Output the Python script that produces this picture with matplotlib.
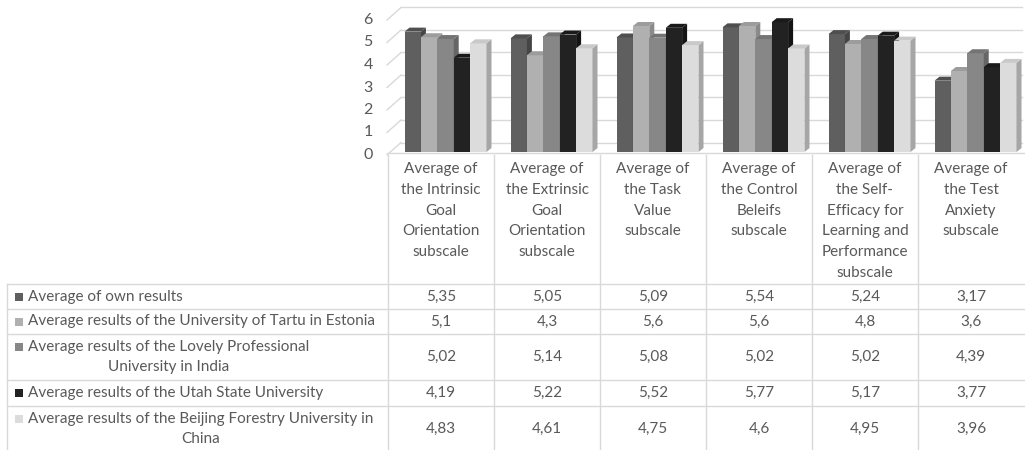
import matplotlib
matplotlib.use("Agg")
import matplotlib.pyplot as plt
from matplotlib.patches import Polygon, Rectangle

plt.rcParams['font.family'] = ['Lato', 'DejaVu Sans']

# Subscale categories (header of the data table)
categories = [
    "Average of\nthe Intrinsic\nGoal\nOrientation\nsubscale",
    "Average of\nthe Extrinsic\nGoal\nOrientation\nsubscale",
    "Average of\nthe Task\nValue\nsubscale",
    "Average of\nthe Control\nBeleifs\nsubscale",
    "Average of\nthe Self-\nEfficacy for\nLearning and\nPerformance\nsubscale",
    "Average of\nthe Test\nAnxiety\nsubscale",
]

series_names = [
    "Average of own results",
    "Average results of the University of Tartu in Estonia",
    "Average results of the Lovely Professional\nUniversity in India",
    "Average results of the Utah State University",
    "Average results of the Beijing Forestry University in\nChina",
]

own_results = [5.35, 5.05, 5.09, 5.54, 5.24, 3.17]
tartu = [5.1, 4.3, 5.6, 5.6, 4.8, 3.6]
lovely = [5.02, 5.14, 5.08, 5.02, 5.02, 4.39]
utah = [4.19, 5.22, 5.52, 5.77, 5.17, 3.77]
beijing = [4.83, 4.61, 4.75, 4.6, 4.95, 3.96]

series_values = [own_results, tartu, lovely, utah, beijing]

y_ticks = [0, 1, 2, 3, 4, 5, 6]

# front / top / side shades for the 3D columns
front_colors = ["#5f5f5f", "#b0b0b0", "#878787", "#222222", "#dcdcdc"]
top_colors = ["#4f4f4f", "#9c9c9c", "#747474", "#1a1a1a", "#c9c9c9"]
side_colors = ["#454545", "#8a8a8a", "#666666", "#141414", "#a6a6a6"]

text_color = "#595959"
line_color = "#d9d9d9"
fs = 11
ls = 1.62

W, H = 1025, 450
fig = plt.figure(figsize=(W / 100, H / 100), dpi=100)

# pixel-space axes for the table layout
pax = fig.add_axes([0, 0, 1, 1], zorder=0)
pax.set_xlim(0, W)
pax.set_ylim(H, 0)
pax.axis('off')

# chart axes: columns -0.5..5.5, values 0..6
x0_px, x1_px = 388, 1024
base_px, unit_px = 152, 22.5
ax = fig.add_axes([x0_px / W, (H - base_px) / H, (x1_px - x0_px) / W, 6 * unit_px / H], zorder=1)
ax.set_xlim(-0.5, 5.5)
ax.set_ylim(0, 6)
ax.axis('off')

kx = 6 / (x1_px - x0_px)   # data units per pixel, x
ky = 6 / (6 * unit_px)      # data units per pixel, y

# back wall gridlines with their slanted floor stubs
for v in y_ticks:
    yf = v - 3 * ky
    yb = v + 9.5 * ky
    xf = -0.5 - 1 * kx
    xb = -0.5 + 13 * kx
    ax.plot([xf, xb], [yf, yb], color=line_color, lw=1, clip_on=False, zorder=1)
    ax.plot([xb, 5.5 - 2 * kx], [yb, yb], color=line_color, lw=1, clip_on=False, zorder=1)
    ax.text(-0.5 - 20 * kx, yf, str(v), ha='center', va='center', fontsize=fs + 0.5,
            color=text_color, clip_on=False)

ax.plot([-0.5 - 1 * kx, 5.5], [-1 * ky, -1 * ky], color=line_color, lw=1, clip_on=False, zorder=1)

# 3D columns
bw = 16.4 * kx
shift = 4.5 * kx
ddx, ddy = 5 * kx, 4 * ky
for i in range(len(categories)):
    for j, vals in enumerate(series_values):
        v = vals[i]
        left = i + shift + (j - 2.5) * bw
        z = 3 + i * 10 + j
        ax.add_patch(Rectangle((left, 0), bw, v, facecolor=front_colors[j], edgecolor='none', zorder=z))
        ax.add_patch(Polygon([(left + bw, 0), (left + bw + ddx, ddy), (left + bw + ddx, v + ddy), (left + bw, v)],
                             closed=True, facecolor=side_colors[j], edgecolor='none', zorder=z))
        ax.add_patch(Polygon([(left, v), (left + ddx, v + ddy), (left + bw + ddx, v + ddy), (left + bw, v)],
                             closed=True, facecolor=top_colors[j], edgecolor='none', zorder=z))

# data table
col_w = 106
col_x = [x0_px + col_w * k for k in range(7)]
row_y = [284, 309, 334, 380, 406, 452]
for x in col_x[:6]:
    pax.plot([x, x], [155, 452], color=line_color, lw=1)
pax.plot([7, 7], [284, 452], color=line_color, lw=1)
for y in row_y[:5]:
    pax.plot([7, 1024], [y, y], color=line_color, lw=1)

for k, label in enumerate(categories):
    pax.text(col_x[k] + col_w / 2, 162, label, ha='center', va='top', fontsize=fs,
             color=text_color, linespacing=ls)

line_h = 20.7
for r, name in enumerate(series_names):
    top, bottom = row_y[r], row_y[r + 1]
    mid = (top + bottom) / 2
    nlines = name.count("\n") + 1
    first_y = mid - (nlines - 1) * line_h / 2
    pax.add_patch(Rectangle((15, first_y - 4), 8, 8, facecolor=front_colors[r], edgecolor='none'))
    pax.text(28, mid, name, ha='left', va='center', multialignment='center', fontsize=fs,
             color=text_color, linespacing=ls)
    for k in range(len(categories)):
        val = series_values[r][k]
        pax.text(col_x[k] + col_w / 2, mid, f"{val:g}".replace('.', ','), ha='center', va='center',
                 fontsize=fs, color=text_color)

fig.savefig("out.png", dpi=100)
